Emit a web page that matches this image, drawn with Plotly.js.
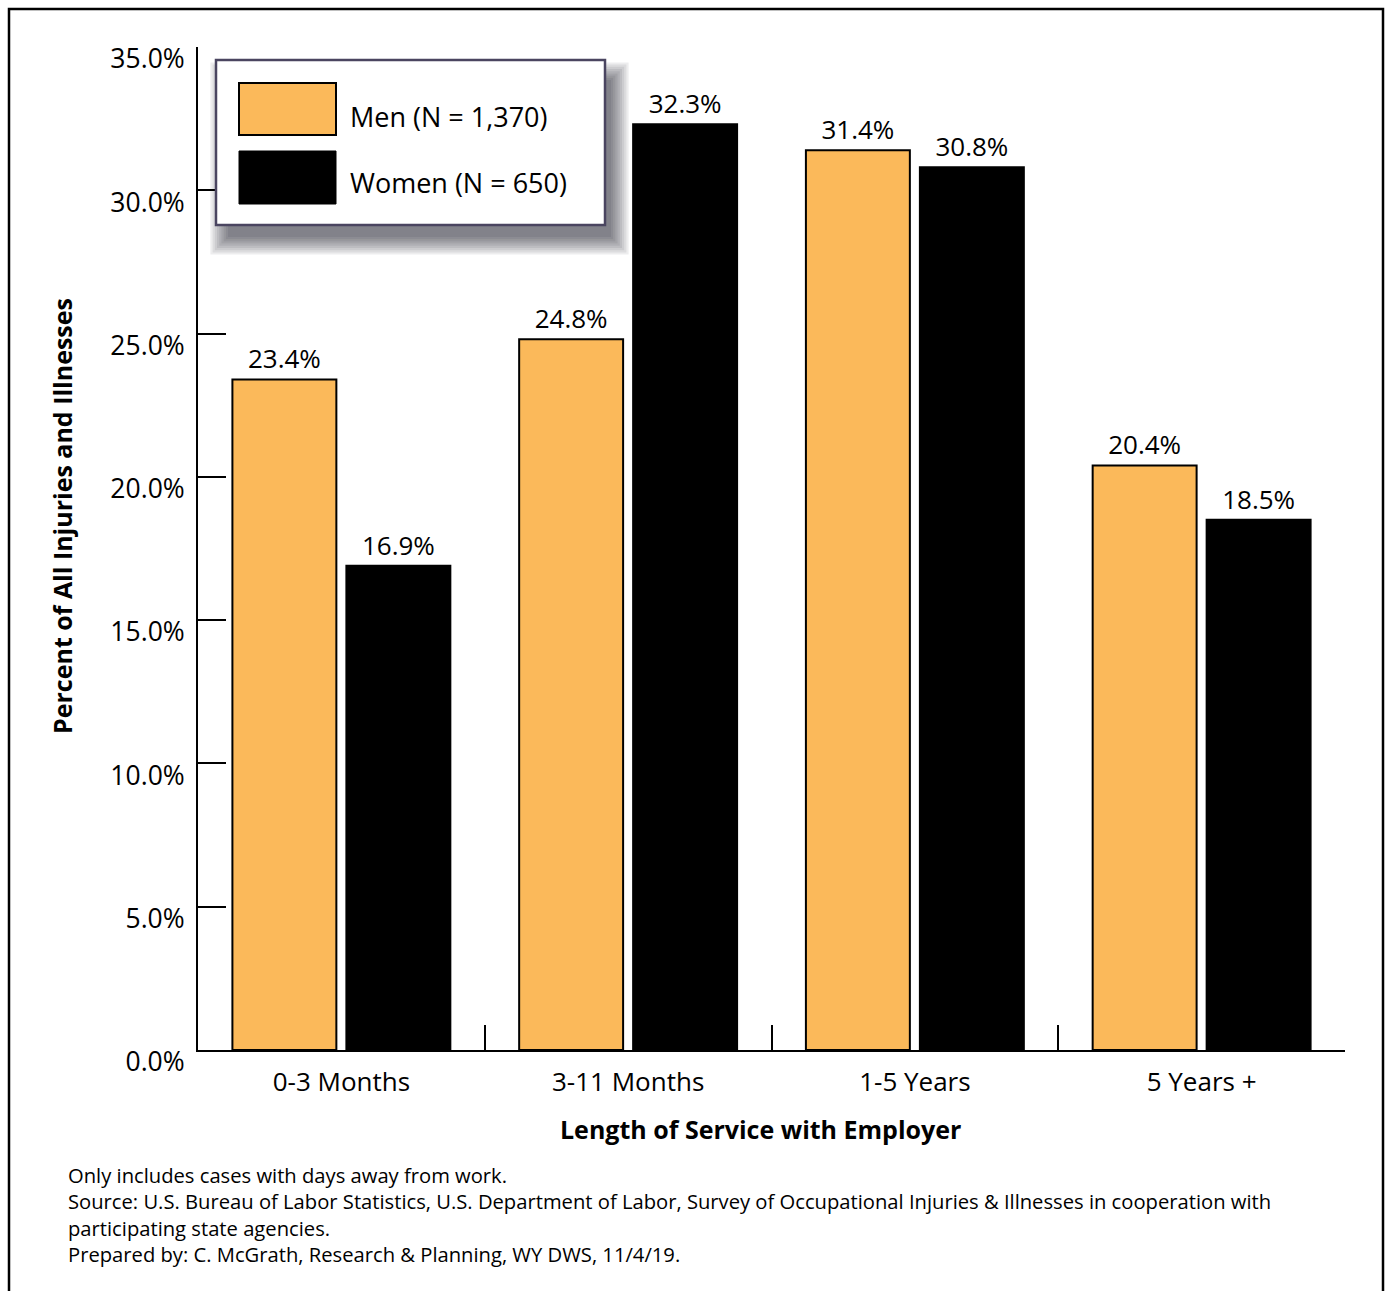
<!DOCTYPE html>
<html>
<head>
<meta charset="utf-8">
<script src="https://cdn.plot.ly/plotly-3.0.1.min.js"></script>
<style>
html,body{margin:0;padding:0;background:#fff;}
#chart{width:1385px;height:1291px;}
</style>
</head>
<body>
<div id="chart"></div>
<script>
const categories = ["0-3 Months", "3-11 Months", "1-5 Years", "5 Years +"];
const menValues = [23.4, 24.8, 31.4, 20.4];
const womenValues = [16.9, 32.3, 30.8, 18.5];
const seriesNames = ["Men (N = 1,370)", "Women (N = 650)"];
const yTickValues = [0, 5, 10, 15, 20, 25, 30, 35];
const footnoteLines = [
  "Only includes cases with days away from work.",
  "Source: U.S. Bureau of Labor Statistics, U.S. Department of Labor, Survey of Occupational Injuries &amp; Illnesses in cooperation with",
  "participating state agencies.",
  "Prepared by: C. McGrath, Research &amp; Planning, WY DWS, 11/4/19."
];

const W = 1385, H = 1291;
const M = {l: 198, r: 40, t: 47, b: 241};
const PW = W - M.l - M.r, PH = H - M.t - M.b;
const px = x => (x - M.l) / PW;
const py = y => (H - M.b - y) / PH;

const FONT = "'Open Sans', sans-serif";
const menColor = "#FBB95A";

const traces = [
  {type: "bar", name: seriesNames[0], x: categories, y: menValues,
   marker: {color: menColor, line: {color: "#000", width: 2}},
   text: menValues.map(v => v.toFixed(1) + "%"), textposition: "outside",
   textfont: {family: FONT, size: 26, color: "#000"}, cliponaxis: false, hoverinfo: "x+y"},
  {type: "bar", name: seriesNames[1], x: categories, y: womenValues,
   marker: {color: "#000", line: {color: "#000", width: 2}},
   text: womenValues.map(v => v.toFixed(1) + "%"), textposition: "outside",
   textfont: {family: FONT, size: 26, color: "#000"}, cliponaxis: false, hoverinfo: "x+y"}
];

const shapes = [];
// outer frame
shapes.push({type: "rect", xref: "paper", yref: "paper", x0: px(9), x1: px(1383), y0: py(9), y1: py(1310),
  line: {color: "#000", width: 2.5}, fillcolor: "rgba(0,0,0,0)", layer: "above"});
// legend shadow
for (let i = 0; i < 9; i++) {
  const g = i * 2.2;
  shapes.push({type: "rect", xref: "paper", yref: "paper",
    x0: px(224 + 4 - g), x1: px(605 + 6 + g), y0: py(66 + 14 - g), y1: py(225 + 12 + g),
    line: {width: 0}, fillcolor: "rgba(20,20,30,0.075)", layer: "above"});
}
// legend box
shapes.push({type: "rect", xref: "paper", yref: "paper", x0: px(216), x1: px(605), y0: py(60), y1: py(225),
  line: {color: "#4a4560", width: 2.5}, fillcolor: "#fff", layer: "above"});
// legend swatches
shapes.push({type: "rect", xref: "paper", yref: "paper", x0: px(239), x1: px(336), y0: py(83), y1: py(135),
  line: {color: "#000", width: 2}, fillcolor: menColor, layer: "above"});
shapes.push({type: "rect", xref: "paper", yref: "paper", x0: px(239), x1: px(336), y0: py(151), y1: py(204),
  line: {color: "#000", width: 1}, fillcolor: "#000", layer: "above"});

const annotations = [
  {xref: "paper", yref: "paper", x: px(348), y: py(116), xanchor: "left", yanchor: "middle",
   text: seriesNames[0], showarrow: false, font: {family: FONT, size: 27, color: "#000"}},
  {xref: "paper", yref: "paper", x: px(348), y: py(183), xanchor: "left", yanchor: "middle",
   text: seriesNames[1], showarrow: false, font: {family: FONT, size: 27, color: "#000"}},
  {xref: "paper", yref: "paper", x: px(760), y: py(1129), xanchor: "center", yanchor: "middle",
   text: "<b>Length of Service with Employer</b>", showarrow: false, font: {family: FONT, size: 25, color: "#000"}},
  {xref: "paper", yref: "paper", x: px(62), y: py(516), xanchor: "center", yanchor: "middle", textangle: -90,
   text: "<b>Percent of All Injuries and Illnesses</b>", showarrow: false, font: {family: FONT, size: 25, color: "#000"}},
  {xref: "paper", yref: "paper", x: px(66), y: py(1159), xanchor: "left", yanchor: "top", align: "left",
   text: footnoteLines.join("<br>"), showarrow: false, font: {family: FONT, size: 20.2, color: "#000"}}
];

const layout = {
  width: W, height: H,
  margin: M,
  paper_bgcolor: "#fff", plot_bgcolor: "#fff",
  showlegend: false,
  barmode: "group", bargap: 0.205, bargroupgap: 0.088,
  font: {family: FONT, color: "#000"},
  xaxis: {type: "category", range: [-0.5, 3.5], showline: true, linecolor: "#000", linewidth: 2,
    ticks: "inside", tickson: "boundaries", ticklen: 25, tickwidth: 2, tickcolor: "#000",
    showgrid: false, zeroline: false, tickfont: {family: FONT, size: 26, color: "#000"},
    ticklabelstandoff: 8, fixedrange: true},
  yaxis: {range: [0, 35], tickvals: yTickValues, ticktext: yTickValues.map(v => v.toFixed(1) + "%"),
    showline: true, linecolor: "#000", linewidth: 2, ticks: "inside", ticklen: 28, tickwidth: 2, tickcolor: "#000",
    showgrid: false, zeroline: false, tickfont: {family: FONT, size: 26.5, color: "#000"},
    ticklabelshift: 12, ticklabelstandoff: 6, fixedrange: true},
  shapes: shapes,
  annotations: annotations
};

Plotly.newPlot("chart", traces, layout, {displayModeBar: false, staticPlot: true});
</script>
</body>
</html>
